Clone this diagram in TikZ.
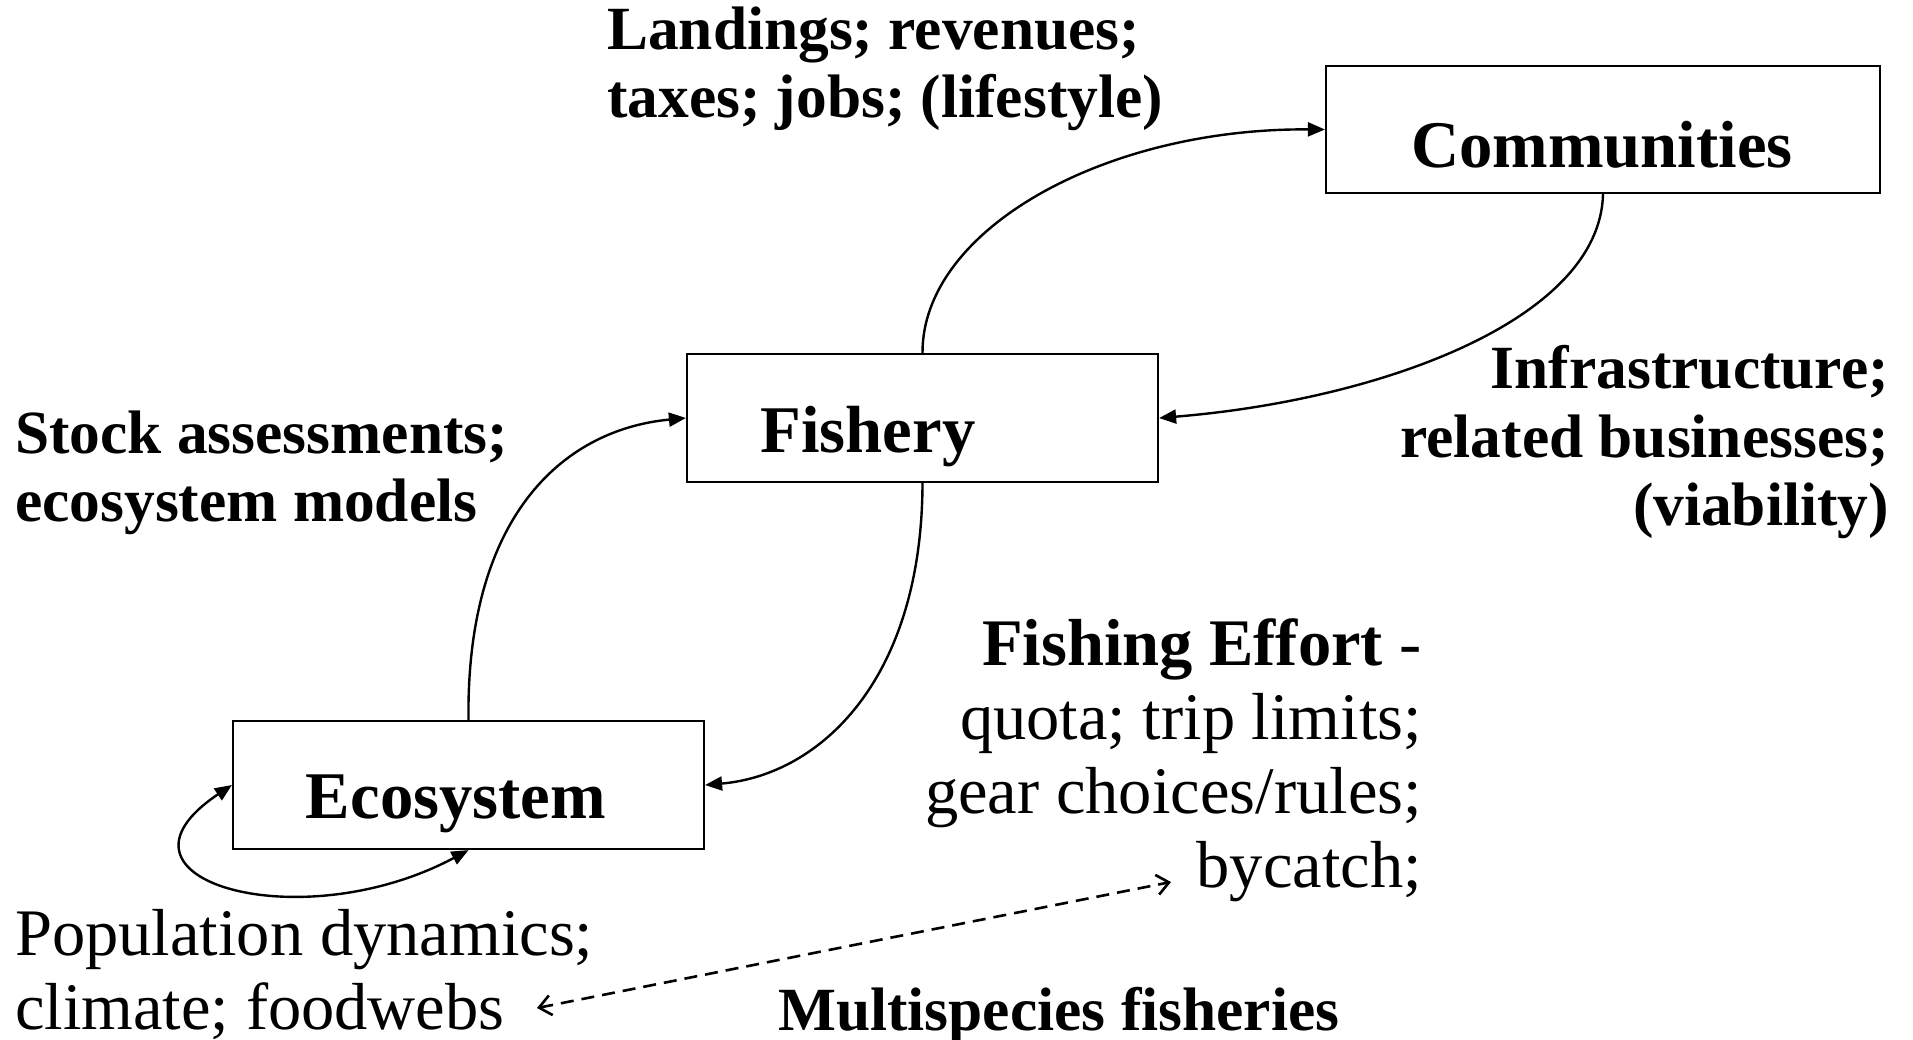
\documentclass[tikz,border=0pt]{standalone}
\usepackage{fontspec}
\setmainfont{Liberation Serif}
\usetikzlibrary{arrows.meta}
\begin{document}
\begin{tikzpicture}[x=1pt,y=-1pt,
  boxnode/.style={draw,line width=2.2pt,minimum width=#1,minimum height=128pt,inner sep=0pt},
  boxtxt/.style={inner sep=0pt,anchor=base,font=\fontsize{66.7}{76}\selectfont\bfseries},
  blab/.style={inner sep=0pt,font=\fontsize{61.4}{68}\selectfont\bfseries},
  nlab/.style={inner sep=0pt,font=\fontsize{66.5}{76}\selectfont},
  conn/.style={line width=2.4pt,-{Triangle[length=17pt,width=14pt]}},
  dashconn/.style={line width=2.6pt,dash pattern=on 13pt off 8pt,{Straight Barb[length=12pt,width=20pt]}-{Straight Barb[length=12pt,width=20pt]}}
]
\useasboundingbox (0,0) rectangle (1913,1039);
% boxes
\node[boxnode=554pt,minimum height=127pt] (com) at (1603,129.5) {};
\node[boxnode=471pt] (fis) at (922.5,418) {};
\node[boxnode=471pt] (eco) at (468.5,785) {};
\node[boxtxt] (comT) at (1602,167) {Communities};
\node[boxtxt] (fisT) at (868,452) {Fishery};
\node[boxtxt] (ecoT) at (456,818) {Ecosystem};
% labels
\node[blab,anchor=base west] (land1) at (607,49) {Landings; revenues;};
\node[blab,anchor=base west] (land2) at (607,117) {taxes; jobs; (lifestyle)};
\node[blab,anchor=base west] (stock1) at (15,453) {Stock assessments;};
\node[blab,anchor=base west] (stock2) at (15,521) {ecosystem models};
\node[blab,anchor=base east] (infra1) at (1889,388) {Infrastructure;};
\node[blab,anchor=base east] (infra2) at (1889,457) {related businesses;};
\node[blab,anchor=base east] (infra3) at (1889,525) {(viability)};
\node[nlab,anchor=base east] (fe1) at (1422,665) {{\bfseries Fishing Effort} -};
\node[nlab,anchor=base east] (fe2) at (1422,739) {quota; trip limits;};
\node[nlab,anchor=base east] (fe3) at (1422,813) {gear choices/rules;};
\node[nlab,anchor=base east] (fe4) at (1422,887) {bycatch;};
\node[nlab,anchor=base west] (pop1) at (15,955) {Population dynamics;};
\node[nlab,anchor=base west] (pop2) at (15,1029) {climate; foodwebs};
\node[blab,anchor=base west] (multi) at (778,1030) {Multispecies fisheries};
% connectors
\draw[conn] (fis.north) .. controls (922,230) and (1104,128) .. (com.west);
\draw[conn] (com.south) .. controls (1600,320) and (1380,400) .. (fis.east);
\draw[conn] (fis.south) .. controls (922,680) and (820,775) .. (eco.east);
\draw[conn] (eco.north) .. controls (466,520) and (560,430) .. (fis.west);
\draw[line width=2.4pt,{Triangle[length=17pt,width=14pt]}-{Triangle[length=17pt,width=14pt]}]
  (eco.west) .. controls (90,880) and (300,940) .. (eco.south);
\coordinate (dL) at (537,1008);
\coordinate (dR) at (1171,882);
\draw[dashconn] (dL) -- (dR);
\end{tikzpicture}
\end{document}
